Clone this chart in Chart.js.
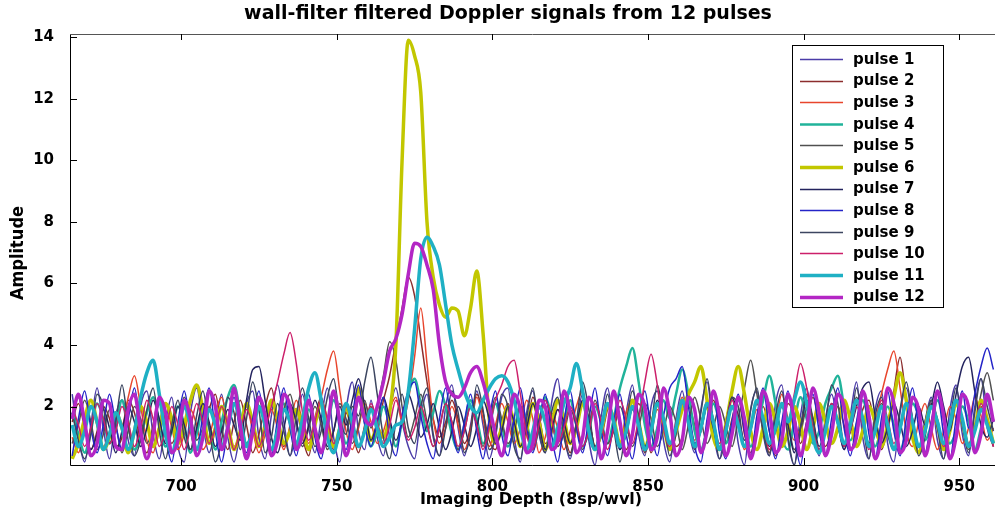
<!DOCTYPE html>
<html><head><meta charset="utf-8">
<script src="https://cdn.jsdelivr.net/npm/chart.js@4.4.0/dist/chart.umd.min.js"></script>
<style>html,body{margin:0;padding:0;background:#fff}canvas{display:block}</style>
</head><body>
<canvas id="c" width="995" height="514"></canvas>
<script>
const depth = [
665,667,669,671,673,675,677,679,681,683,
685,687,689,691,693,695,697,699,701,703,
705,707,709,711,713,715,717,719,721,723,
725,727,729,731,733,735,737,739,741,743,
745,747,749,751,753,755,757,759,761,763,
765,767,769,771,773,775,777,779,781,783,
785,787,789,791,793,795,797,799,801,803,
805,807,809,811,813,815,817,819,821,823,
825,827,829,831,833,835,837,839,841,843,
845,847,849,851,853,855,857,859,861,863,
865,867,869,871,873,875,877,879,881,883,
885,887,889,891,893,895,897,899,901,903,
905,907,909,911,913,915,917,919,921,923,
925,927,929,931,933,935,937,939,941,943,
945,947,949,951,953,955,957,959,961];
const xTicks = [700,750,800,850,900,950];
const yTicks = [2,4,6,8,10,12,14];
const pulseNames = ['pulse 1','pulse 2','pulse 3','pulse 4','pulse 5','pulse 6','pulse 7','pulse 8','pulse 9','pulse 10','pulse 11','pulse 12'];

const pulse1 = [
2.4,1.0,0.2,1.4,2.6,1.3,0.3,1.7,2.2,0.9,
0.4,2.0,2.5,1.1,0.3,1.5,2.3,0.7,0.2,1.8,
2.6,1.4,0.5,1.3,2.4,1.0,0.2,1.2,2.1,2.5,
1.0,0.3,1.7,2.7,1.5,0.4,1.2,2.4,1.3,0.5,
1.6,2.6,1.0,0.2,1.9,2.8,1.2,0.6,2.2,1.0,
0.4,1.8,2.6,1.5,0.7,0.3,1.7,2.4,1.0,0.4,
2.0,2.7,1.3,0.4,1.4,2.5,1.4,0.3,1.1,2.3,
2.6,1.0,0.2,1.8,2.5,1.1,0.5,2.1,2.9,1.2,
0.3,1.4,2.4,0.9,0.1,1.7,2.6,1.4,0.6,1.8,
2.7,1.1,0.4,2.0,2.5,0.9,0.2,1.6,2.5,1.3,
0.5,1.9,2.8,1.2,0.3,1.5,2.3,0.8,0.1,1.9,
2.5,1.1,0.4,2.1,2.7,0.9,0.1,1.7,2.6,1.3,
0.4,1.6,2.4,1.5,0.6,1.7,2.8,1.0,0.3,1.9,
2.5,0.8,0.2,1.8,2.6,1.6,0.5,1.5,2.3,0.9,
0.3,1.9,2.7,1.1,0.4,2.0,2.9,1.3,0.7];
const pulse2 = [
1.5,2.1,1.3,0.6,1.2,2.0,1.6,0.7,1.0,2.2,
1.8,0.9,0.5,1.4,2.3,1.5,0.8,1.3,2.1,1.2,
0.4,1.0,1.9,2.4,1.3,0.6,1.5,2.2,1.4,0.5,
1.1,2.0,2.6,1.5,0.7,1.2,1.9,1.0,0.4,1.6,
2.3,1.4,0.6,1.0,1.8,1.2,0.5,1.4,2.0,1.3,
2.2,3.0,4.1,5.2,6.2,5.6,4.2,2.8,1.6,1.0,
1.5,2.2,1.6,0.8,1.3,2.4,1.8,0.9,0.6,1.5,
2.1,1.4,0.7,1.2,2.3,1.7,0.8,1.1,1.9,1.2,
0.5,1.3,2.2,1.6,0.7,1.0,1.9,2.4,1.3,0.6,
1.2,2.1,1.5,0.5,1.3,2.6,1.8,0.7,1.0,2.0,
1.4,0.6,1.3,2.2,1.5,0.8,1.6,2.3,1.1,0.5,
1.4,2.0,1.2,0.4,1.0,2.1,1.7,0.8,1.5,2.3,
1.5,0.7,1.2,2.0,1.4,0.6,1.1,1.9,2.2,1.3,
0.6,1.3,2.5,3.6,2.2,1.0,0.5,1.4,2.1,1.5,
0.8,1.3,2.2,1.6,0.7,1.2,2.0,1.4,0.7];
const pulse3 = [
1.0,0.5,1.3,2.0,1.4,0.7,1.2,1.8,1.4,2.3,
3.0,2.0,0.9,0.5,1.4,2.1,1.3,0.6,1.1,1.9,
1.4,0.6,1.0,1.8,2.3,1.5,0.7,1.2,2.0,1.2,
0.5,1.1,1.9,1.3,0.6,1.4,2.2,1.5,0.8,1.6,
2.3,3.2,3.8,2.5,1.2,0.6,1.3,2.1,1.5,0.8,
1.2,1.9,2.3,1.5,2.2,3.6,5.2,3.4,1.6,0.8,
1.3,2.0,1.4,0.6,1.2,2.3,1.6,0.7,1.4,2.1,
1.5,0.8,1.3,2.2,1.6,0.5,1.0,1.8,1.3,0.6,
1.2,2.0,2.5,1.4,0.6,1.3,2.1,1.4,0.7,1.8,
2.2,1.3,0.5,1.1,1.9,1.4,0.6,1.5,2.3,1.6,
0.9,1.4,2.2,1.6,0.7,1.1,2.0,1.5,0.6,1.2,
1.9,1.3,0.5,1.4,2.4,1.6,0.9,1.3,2.0,1.2,
0.6,1.4,2.1,1.5,0.8,1.3,2.2,1.7,0.8,1.5,
2.4,3.2,3.8,2.6,1.2,0.7,1.5,2.1,1.3,0.6,
1.2,2.0,1.6,0.8,1.3,2.3,1.7,0.9,1.3];
const pulse4 = [
1.8,1.1,0.5,1.2,2.1,1.6,0.8,1.3,2.2,1.4,
0.6,1.0,1.8,2.3,1.5,0.7,1.2,2.0,1.4,0.5,
1.1,1.9,1.3,0.6,1.5,2.3,2.7,1.8,0.8,1.2,
2.0,1.4,0.6,1.2,2.1,1.5,0.7,1.1,1.9,1.3,
0.5,1.3,2.2,1.6,0.8,1.4,2.2,1.5,0.7,1.2,
2.0,1.4,0.7,1.5,2.4,2.9,2.1,1.2,1.8,2.5,
2.0,1.1,0.6,1.4,2.2,1.6,0.8,1.3,2.1,1.4,
0.7,1.2,2.0,1.5,0.6,1.4,2.3,1.7,0.9,1.5,
2.2,1.4,0.7,1.2,2.0,1.5,0.8,1.6,2.6,3.3,
3.9,2.8,1.4,0.7,1.3,2.2,1.6,2.4,3.2,2.4,
1.2,0.6,1.3,2.1,1.5,0.8,1.4,2.2,1.6,0.7,
1.3,2.2,3.0,2.1,1.0,0.6,1.5,2.3,1.6,0.8,
1.2,2.1,2.6,3.0,2.0,0.9,1.4,2.2,1.5,0.7,
1.3,2.0,1.4,0.6,1.2,2.1,1.7,0.9,1.4,2.2,
1.6,0.8,1.2,2.0,1.5,0.6,1.3,2.2,1.5];
const pulse5 = [
0.8,1.4,2.2,1.5,0.6,1.1,1.9,1.4,0.5,1.2,
2.0,1.6,0.8,1.3,2.1,1.2,0.5,1.4,2.3,1.7,
0.9,1.3,2.0,1.4,0.6,1.2,2.1,1.5,0.7,1.4,
2.2,1.5,0.6,1.0,1.9,2.4,1.5,0.7,1.3,2.0,
1.4,0.6,1.2,2.1,1.6,0.8,1.4,2.2,1.3,2.0,
3.0,4.1,3.5,2.0,1.0,1.6,2.4,1.5,0.7,1.3,
2.1,1.5,0.6,1.2,2.0,1.4,0.7,1.5,2.3,1.6,
0.8,1.2,2.0,1.4,0.6,1.3,2.2,1.6,0.7,1.1,
1.9,1.4,0.6,1.3,2.2,1.5,0.8,1.2,2.0,1.4,
0.7,1.3,2.1,1.6,0.7,1.2,2.0,1.5,0.6,1.4,
2.3,1.6,0.8,1.3,2.0,1.4,0.7,1.6,2.6,3.5,
2.4,1.2,0.5,1.3,2.1,1.5,0.6,1.1,1.9,1.3,
0.6,1.2,2.0,1.5,0.7,1.4,2.3,1.6,0.8,1.3,
2.1,1.5,0.6,1.2,2.0,1.4,0.7,1.5,2.2,1.6,
0.8,1.4,2.2,1.5,0.6,1.3,2.4,3.1,2.2];
const pulse6 = [
0.3,0.8,1.6,2.2,1.5,0.6,1.0,1.8,1.3,0.5,
1.2,2.0,1.5,0.7,1.3,2.1,1.6,0.8,1.4,2.2,
2.7,1.9,0.8,1.3,2.0,1.4,0.6,1.2,2.1,1.5,
0.7,1.4,2.2,1.6,0.8,1.2,1.9,1.3,0.6,1.4,
2.1,1.5,0.7,1.3,2.0,1.4,2.6,1.8,0.9,1.3,
1.0,1.8,4.0,10.0,13.9,13.4,12.2,8.0,6.2,5.3,
4.9,5.2,5.1,4.3,5.2,6.4,4.4,1.6,0.8,1.3,
2.0,1.5,0.7,1.2,2.1,1.5,0.6,1.3,2.2,1.6,
0.8,1.3,2.1,1.4,0.6,1.2,2.0,1.6,0.8,1.4,
2.2,1.5,0.7,1.3,2.1,1.4,0.6,1.2,1.9,2.4,
2.8,3.3,2.2,1.0,0.6,1.4,2.5,3.3,2.4,1.2,
0.6,1.3,2.1,1.5,0.7,1.2,2.0,1.4,0.6,1.3,
2.1,1.5,0.8,1.3,2.2,1.6,0.7,1.2,2.0,1.5,
0.7,1.4,2.3,3.1,2.2,1.0,0.5,1.3,2.0,1.4,
0.6,1.2,2.1,1.5,0.7,1.3,2.2,1.6,0.8];
const pulse7 = [
1.6,2.3,1.4,0.6,1.1,1.9,1.3,0.5,1.2,2.0,
1.5,0.7,1.3,2.2,1.6,0.8,1.2,2.0,1.4,0.6,
1.3,2.1,1.5,0.7,1.2,1.9,1.4,0.9,2.2,3.2,
3.3,2.2,1.0,0.5,1.3,2.1,1.5,0.8,1.4,2.2,
1.6,0.7,1.2,2.0,1.4,2.2,2.9,2.0,0.9,1.5,
2.3,1.6,0.9,1.5,2.4,1.8,1.0,1.4,2.1,1.3,
0.6,1.2,2.0,1.4,0.7,1.3,2.2,1.6,0.8,1.2,
2.0,1.5,0.7,1.3,2.1,1.4,0.6,1.2,1.9,1.5,
0.8,1.4,2.2,1.6,0.7,1.3,2.1,1.5,0.6,1.1,
1.9,1.4,0.7,1.3,2.2,1.5,0.8,1.4,2.2,1.6,
0.8,1.2,2.0,1.3,0.6,1.4,2.3,1.7,0.9,1.3,
2.1,1.5,0.7,1.2,2.0,1.4,0.5,1.3,2.2,1.6,
0.7,1.3,2.1,1.4,0.6,1.2,2.0,2.6,2.8,1.7,
0.8,1.3,2.1,1.5,0.7,1.2,2.0,1.4,2.0,2.8,
2.0,1.2,2.4,3.3,3.6,2.5,1.4,1.0,1.6];
const pulse8 = [
0.4,1.6,2.5,1.3,0.5,1.4,2.4,1.4,0.6,1.6,
2.6,1.3,0.3,1.2,2.1,1.0,0.2,1.5,2.5,1.4,
0.6,1.7,2.6,1.2,0.2,1.3,2.3,1.1,0.5,1.6,
2.5,1.2,0.4,1.6,2.6,1.3,0.4,1.5,2.4,1.0,
0.3,1.5,2.4,1.2,0.6,1.7,2.7,1.4,0.7,1.5,
2.3,1.0,0.4,1.7,2.5,2.8,1.7,0.8,0.3,1.6,
2.6,1.3,0.5,1.5,2.4,1.2,0.3,1.6,2.5,1.1,
0.4,1.6,2.6,1.3,0.5,1.5,2.4,1.1,0.2,1.5,
2.5,1.3,0.5,1.6,2.6,1.2,0.4,1.5,2.4,1.1,
0.3,1.6,2.5,1.2,0.4,1.7,2.6,2.9,3.3,2.0,
0.7,0.2,1.6,2.5,1.1,0.3,1.5,2.4,1.2,0.4,
1.7,2.6,1.2,0.3,1.5,2.5,1.1,0.1,1.5,2.4,
1.2,0.4,1.6,2.6,1.3,0.4,1.5,2.5,1.1,0.3,
1.6,2.5,1.2,0.4,1.6,2.6,1.3,0.5,1.5,2.4,
1.1,0.3,1.6,2.5,1.3,2.4,3.3,3.9,3.2];
const pulse9 = [
1.8,0.9,0.3,1.1,2.4,2.0,0.8,1.5,2.7,1.4,
0.4,0.9,1.9,2.6,1.2,0.3,1.4,2.2,1.0,0.6,
1.7,2.5,1.3,0.2,0.9,2.3,1.8,0.6,1.6,2.8,
1.9,0.5,1.0,2.1,1.2,0.4,1.7,2.6,1.6,0.7,
1.2,2.3,2.9,1.6,1.1,2.0,1.7,2.8,3.6,2.4,
1.0,0.3,1.5,2.4,1.3,0.8,2.0,2.6,1.1,0.4,
1.3,2.5,1.8,0.5,1.1,2.7,1.9,0.6,1.0,2.4,
2.0,0.7,0.3,1.6,2.6,1.2,0.5,1.8,2.3,1.0,
0.4,1.5,2.8,1.9,0.6,1.2,2.4,1.3,0.2,1.4,
2.5,1.7,0.5,1.3,2.7,1.6,0.4,1.1,2.2,1.5,
0.6,1.8,2.9,1.5,0.3,1.0,2.3,2.0,0.7,1.9,
2.6,1.2,0.4,1.7,2.5,1.0,0.1,1.3,2.4,1.6,
0.5,1.4,2.7,2.1,0.8,1.2,2.6,1.5,0.3,1.7,
2.3,1.1,0.6,1.9,2.8,1.6,0.4,1.0,2.2,1.3,
0.3,1.5,2.6,1.4,0.5,1.8,2.9,2.0,1.2];
const pulse10 = [
2.0,1.4,0.7,1.3,2.1,1.6,0.8,1.2,2.0,1.5,
0.7,1.3,2.2,1.6,0.7,1.2,2.0,1.4,0.6,1.3,
2.1,1.5,0.8,1.3,2.0,1.4,0.6,1.2,1.9,1.4,
0.7,1.3,2.0,2.8,3.7,4.4,3.4,1.8,0.9,1.5,
2.2,1.6,0.8,1.2,2.0,1.5,0.7,1.3,2.1,1.5,
0.8,1.4,2.2,1.6,0.9,1.3,2.0,1.4,0.7,1.3,
2.1,1.5,0.7,1.2,2.0,1.4,0.6,1.3,2.2,2.7,
3.3,3.5,2.4,1.1,0.6,1.4,2.2,1.6,0.8,1.3,
2.0,1.5,0.7,1.2,2.1,1.5,0.6,1.3,2.2,1.6,
0.8,1.6,2.8,3.7,2.7,1.3,0.7,1.3,2.1,1.5,
0.7,1.2,2.0,1.5,0.8,1.4,2.2,1.6,0.7,1.3,
2.1,1.5,0.6,1.3,2.0,1.5,2.4,3.4,2.6,1.3,
0.6,1.3,2.1,1.5,0.7,1.2,2.0,1.4,0.6,1.3,
2.2,1.6,0.8,1.3,2.1,1.5,0.7,1.2,2.0,1.4,
0.7,1.3,2.2,1.6,0.8,1.3,2.1,1.5,0.7];
const pulse11 = [
1.4,0.7,1.2,2.0,1.5,0.6,1.1,1.8,1.3,0.6,
1.2,2.3,3.1,3.5,2.4,1.1,0.5,1.2,2.0,1.4,
0.6,1.1,1.9,1.4,0.7,1.3,2.1,1.5,0.7,1.2,
2.0,1.4,0.6,1.2,1.9,1.5,0.8,1.6,2.6,3.1,
2.2,1.0,0.5,1.3,2.1,1.5,0.7,1.2,1.9,1.3,
0.7,1.0,1.4,1.5,2.5,4.5,6.8,7.5,7.2,6.6,
5.3,4.0,3.2,2.5,2.0,1.8,2.2,2.6,2.9,3.0,
2.8,2.2,1.3,0.6,1.2,2.0,1.5,0.7,1.3,2.1,
2.6,3.4,2.5,1.2,0.6,1.3,2.1,1.5,0.7,1.2,
2.0,1.4,0.6,1.2,2.1,1.6,0.8,1.3,2.2,1.5,
0.7,1.3,2.1,1.5,0.6,1.2,2.0,1.4,0.7,1.3,
2.2,1.6,0.8,1.3,2.1,1.5,2.2,2.8,2.1,1.0,
0.5,1.2,2.0,1.5,0.8,1.4,2.2,1.6,0.7,1.2,
2.0,1.4,0.6,1.3,2.1,1.5,0.7,1.2,2.0,1.5,
0.8,1.4,2.2,1.6,0.7,1.2,1.9,1.4,0.8];
const pulse12 = [
1.6,2.4,1.5,0.4,0.8,2.2,2.1,0.7,0.6,1.9,
2.4,1.2,0.3,1.1,2.3,1.8,0.5,0.9,2.2,1.6,
0.4,1.0,2.5,2.0,0.6,1.3,2.6,1.4,0.3,1.2,
2.3,1.7,0.4,0.9,2.4,2.0,0.6,1.1,2.2,1.3,
0.5,1.4,2.5,1.5,0.4,1.2,2.3,1.6,1.4,2.0,
2.8,3.8,4.2,5.0,6.3,7.3,7.2,6.6,5.8,4.0,
2.8,2.4,2.3,2.6,3.1,3.3,2.8,2.0,1.1,0.4,
1.3,2.4,1.9,0.5,0.8,2.2,2.0,0.6,0.9,2.5,
1.8,0.5,1.0,2.3,1.7,0.3,1.2,2.5,1.5,0.4,
1.1,2.4,2.0,0.6,1.0,2.6,1.8,0.4,0.9,2.3,
1.9,0.5,1.2,2.5,1.7,0.4,1.1,2.3,1.6,0.3,
1.2,2.5,1.9,0.5,0.9,2.4,1.6,0.4,1.3,2.6,
1.8,0.4,1.1,2.4,2.0,0.6,1.0,2.5,1.7,0.3,
1.0,2.6,2.1,0.5,0.9,2.3,1.9,0.4,1.2,2.5,
1.7,0.3,1.0,2.4,2.0,0.5,1.1,2.4,1.5];

const series = [pulse1,pulse2,pulse3,pulse4,pulse5,pulse6,pulse7,pulse8,pulse9,pulse10,pulse11,pulse12];
const colors = ['#4b3ca8','#8c2d2d','#e8452c','#21b39a','#505050','#c2c700','#23235e','#2424c8','#3c4660','#cc1f6a','#1fb0c4','#b326c4'];
const widths = [1.5,1.5,1.5,2.5,1.5,3.5,1.5,1.5,1.5,1.5,3.5,3.5];

const BOLD = '"DejaVu Sans", "Liberation Sans", Arial, sans-serif';

const deco = {
  id:'deco',
  afterDraw(chart){
    const {ctx, chartArea:a, scales:{x,y}} = chart;
    ctx.save();
    ctx.lineWidth = 1;
    ctx.strokeStyle = '#000';
    ctx.beginPath();
    ctx.moveTo(a.left+0.5, a.top);
    ctx.lineTo(a.left+0.5, a.bottom+0.5);
    ctx.lineTo(a.right, a.bottom+0.5);
    ctx.stroke();
    ctx.strokeStyle = '#555';
    ctx.beginPath();
    ctx.moveTo(a.left, a.top+0.5);
    ctx.lineTo(a.right, a.top+0.5);
    ctx.stroke();
    ctx.strokeStyle = '#000';
    ctx.beginPath();
    yTicks.forEach(v=>{const py=Math.round(y.getPixelForValue(v))+0.5; ctx.moveTo(a.left,py); ctx.lineTo(a.left+7,py);});
    xTicks.forEach(v=>{const px=Math.round(x.getPixelForValue(v))+0.5; ctx.moveTo(px,a.bottom); ctx.lineTo(px,a.bottom-7); ctx.moveTo(px,a.top); ctx.lineTo(px,a.top+6);});
    ctx.stroke();
    ctx.fillStyle = '#000';
    ctx.textAlign = 'center';
    ctx.textBaseline = 'middle';
    ctx.font = 'bold 19px ' + BOLD;
    ctx.fillText('wall-filter filtered Doppler signals from 12 pulses', 508, 14);
    ctx.font = 'bold 16px ' + BOLD;
    ctx.fillText('Imaging Depth (8sp/wvl)', 531, 500);
    ctx.save();
    ctx.translate(18, 253);
    ctx.rotate(-Math.PI/2);
    ctx.font = 'bold 18px "DejaVu Sans Condensed", "Liberation Sans Narrow", sans-serif';
    ctx.fillText('Amplitude', 0, 0);
    ctx.restore();
    const lx = 792.5, ly = 45.5, lw = 151, lh = 262;
    ctx.fillStyle = '#fff';
    ctx.fillRect(lx, ly, lw, lh);
    ctx.strokeStyle = '#000';
    ctx.lineWidth = 1;
    ctx.strokeRect(lx, ly, lw, lh);
    ctx.textAlign = 'left';
    ctx.font = 'bold 15px ' + BOLD;
    chart.data.datasets.forEach((ds,k)=>{
      const yy = 59 + 21.6*k;
      ctx.strokeStyle = ds.borderColor;
      ctx.lineWidth = ds.borderWidth;
      ctx.beginPath();
      ctx.moveTo(800, Math.round(yy)+0.5);
      ctx.lineTo(843, Math.round(yy)+0.5);
      ctx.stroke();
      ctx.fillStyle = '#000';
      ctx.fillText(ds.label, 853, yy+1);
    });
    ctx.restore();
  }
};

new Chart(document.getElementById('c').getContext('2d'), {
  type:'line',
  data:{datasets: series.map((s,k)=>({
    label: pulseNames[k],
    data: depth.map((d,i)=>({x:d, y:s[i]})),
    borderColor: colors[k],
    borderWidth: widths[k],
    pointRadius: 0,
    cubicInterpolationMode: 'monotone',
    fill: false,
    order: 11 - k
  }))},
  options:{
    responsive:false, animation:false, devicePixelRatio:1,
    layout:{padding:{top:34,right:0,left:0,bottom:0}},
    plugins:{legend:{display:false}, title:{display:false}, tooltip:{enabled:false}},
    scales:{
      x:{type:'linear', min:664.3, max:961.5,
         afterBuildTicks:s=>{s.ticks = xTicks.map(v=>({value:v}));},
         afterFit:s=>{s.height = 49;},
         grid:{display:false}, border:{display:false},
         ticks:{padding:5, color:'#000', maxRotation:0, font:{family:BOLD, weight:'bold', size:15}}},
      y:{type:'linear', min:0.1, max:14.1,
         afterBuildTicks:s=>{s.ticks = yTicks.map(v=>({value:v}));},
         afterFit:s=>{s.width = 70;},
         grid:{display:false}, border:{display:false},
         ticks:{padding:8, color:'#000', font:{family:BOLD, weight:'bold', size:15}}}
    }
  },
  plugins:[deco]
});
</script>
</body></html>
